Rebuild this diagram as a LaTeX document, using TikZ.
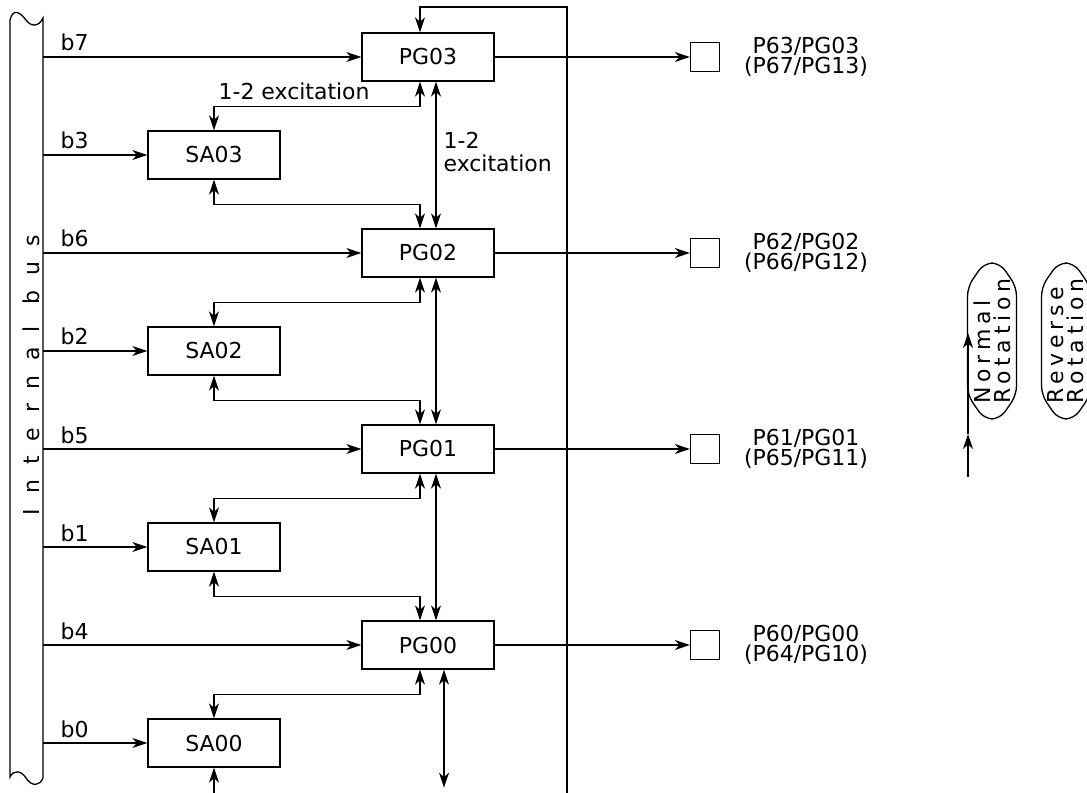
\documentclass[tikz,border=0pt]{standalone}
\usepackage{fontspec}
\setmainfont{DejaVu Sans}
\usetikzlibrary{arrows.meta,calc}

\tikzset{
  blk/.style={draw, minimum width=2.64cm, minimum height=0.96cm, inner sep=0pt, font=\fontsize{12.5}{13}\selectfont},
  pin/.style={draw, minimum size=0.58cm, inner sep=0pt},
  lbl/.style={inner sep=0pt, font=\fontsize{12.5}{13}\selectfont},
  arr/.style={-{Stealth[length=0.3cm,width=0.2cm,inset=0.09cm]}},
  darr/.style={{Stealth[length=0.3cm,width=0.2cm,inset=0.09cm]}-{Stealth[length=0.3cm,width=0.2cm,inset=0.09cm]}},
  capsule/.style={minimum width=3.1cm, minimum height=0.98cm, inner sep=0pt, align=left,
    font=\fontsize{12.5}{11.4}\selectfont\addfontfeature{LetterSpace=22}},
}

\begin{document}
\begin{tikzpicture}[x=0.02cm, y=-0.02cm, line width=0.75pt]
\useasboundingbox (0,0) rectangle (1087,793);
\coordinate (busR) at (43,0);
\coordinate (bot) at (0,793);
\draw (10,20) .. controls (13,8) and (20,12) .. (26,20) .. controls (31,27) and (39,27) .. (43,18)
  -- (43,778) .. controls (40,786) and (32,787) .. (26,778) .. controls (21,770) and (13,770) .. (10,777) -- cycle;
\node[lbl, rotate=90, font=\fontsize{12.5}{13}\selectfont\addfontfeature{LetterSpace=68}] (bus) at (31,375) {Internal bus};

\foreach \i in {0,...,3}{
  \pgfmathtruncatemacro\b{\i+4}
  \pgfmathsetmacro\yp{57+(3-\i)*196}
  \node[blk] (pg\i) at (428,\yp) {PG0\i};
  \node[blk] (sa\i) at (214,\yp+98) {SA0\i};
  \node[pin] (pin\i) at (705,\yp) {};
  \node[lbl, align=center, font=\fontsize{12.5}{11.4}\selectfont] (plbl\i) at (806,\yp) {P6\i/PG0\i\\(P6\b/PG1\i)};
  \draw[arr] (busR |- pg\i) -- (pg\i);
  \node[lbl, anchor=base west] (lb\b) at ([shift={(17,-6)}]busR |- pg\i) {b\b};
  \draw[arr] (busR |- sa\i) -- (sa\i);
  \node[lbl, anchor=base west] (lb\i) at ([shift={(17,-6)}]busR |- sa\i) {b\i};
  \draw[arr] (pg\i) -- (pin\i);
  \draw[darr] ($(pg\i.south)+(-8,0)$) -- ++(0,25) -| (sa\i.north);
}

\foreach \i/\j in {3/2,2/1,1/0}{
  \draw[darr] (sa\i.south) -- ++(0,25) -| ($(pg\j.north)+(-8,0)$);
  \draw[darr] ($(pg\i.south)+(8,0)$) -- ($(pg\j.north)+(8,0)$);
}
\draw[arr] (sa0.south |- bot) -- (sa0.south);
\draw[darr] ($(pg0.south)+(16,0)$) -- ($(pg0.south)+(16,118)$);

\coordinate (fbB) at (567,793);
\coordinate (fbT) at (567,7);
\draw[arr] (fbB) -- (fbT) -| ($(pg3.north)+(-8,0)$);

\node[lbl, anchor=base west] (exc1) at (218,100) {1-2 excitation};
\node[lbl, anchor=north west, align=left] (exc2) at (443,132) {1-2\\excitation};

\node[capsule, rotate=90] (normal) at (992,341) {Normal\\Rotation};
\node[capsule, rotate=90] (reverse) at (1066,341) {Reverse\\Rotation};
\foreach \n in {normal,reverse}
  \draw[rounded corners=0.18cm] ($(\n.center)+(-24.5,54)$) -- ($(\n.center)+(-24.5,-54)$) -- ($(\n.center)+(-8,-78)$)
    -- ($(\n.center)+(8,-78)$) -- ($(\n.center)+(24.5,-54)$) -- ($(\n.center)+(24.5,54)$) -- ($(\n.center)+(8,78)$)
    -- ($(\n.center)+(-8,78)$) -- cycle;
\coordinate (rotS) at (968,477);
\coordinate (rotM) at (968,434);
\coordinate (rotT) at (968,333);
\draw[arr] (rotS) -- (rotM);
\draw[arr] (rotM) -- (rotT);
\end{tikzpicture}
\end{document}
